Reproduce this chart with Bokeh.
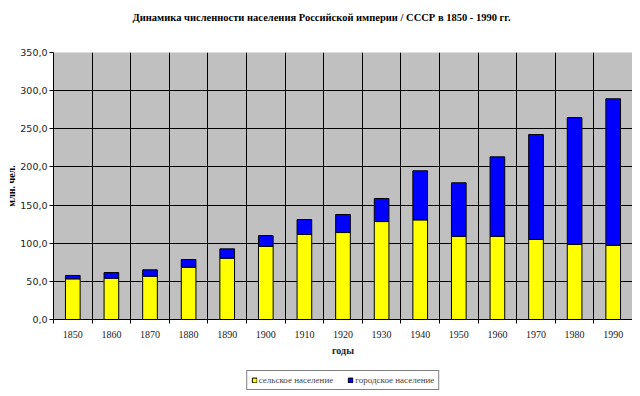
from bokeh.plotting import figure
from bokeh.layouts import column
from bokeh.models import (FixedTicker, CustomJSTickFormatter, Legend,
                          LegendItem, Range1d, ColumnDataSource, Label)
from bokeh.embed import file_html
from bokeh.resources import INLINE

years = [1850, 1860, 1870, 1880, 1890, 1900, 1910, 1920, 1930, 1940,
         1950, 1960, 1970, 1980, 1990]
rural = [53.3, 54.2, 56.8, 68.6, 80.4, 95.7, 111.4, 114.0, 128.4, 130.6,
         108.8, 108.8, 105.0, 98.3, 97.4]
urban = [4.4, 7.4, 8.3, 10.0, 12.2, 14.3, 19.6, 23.6, 30.2, 64.3,
         70.4, 104.4, 137.5, 166.4, 191.9]
y_ticks = [0, 50, 100, 150, 200, 250, 300, 350]
series_names = ["сельское население", "городское население"]
series_colors = ["#FFFF00", "#0000FF"]
title_text = "Динамика численности населения Российской империи / СССР в 1850 - 1990 гг."

W = 632
LEFT = 53


def strip(height, top):
    f = figure(width=W, height=height, output_backend="svg", toolbar_location=None,
               x_range=Range1d(0, 1), y_range=Range1d(0, 1),
               min_border_left=LEFT, min_border_right=0, min_border_top=top,
               min_border_bottom=0)
    f.axis.visible = False
    f.grid.visible = False
    f.outline_line_color = None
    f.background_fill_color = "white"
    f.border_fill_color = "white"
    return f


source = ColumnDataSource(dict(year=years, rural=rural, urban=urban))

# title strip
tf = strip(34, 0)
tf.add_layout(Label(x=(321 - LEFT) / (W - LEFT), y=0.5, text=title_text,
                    text_font="Liberation Serif", text_font_style="bold",
                    text_font_size="10.5px", text_align="center",
                    text_baseline="middle", text_color="black"))

# main chart
p = figure(width=W, height=328, output_backend="svg", toolbar_location=None,
           x_range=Range1d(1845, 1995), y_range=Range1d(0, 350),
           min_border_left=LEFT, min_border_right=0, min_border_top=18,
           min_border_bottom=43)
p.border_fill_color = "white"
p.background_fill_color = "#C0C0C0"
p.outline_line_color = None

p.vbar_stack(["rural", "urban"], x="year", width=3.8, source=source,
             fill_color=series_colors, line_color="black", line_width=1)

bounds = [y - 5 for y in years] + [years[-1] + 5]
p.xgrid.ticker = FixedTicker(ticks=bounds)
p.xgrid.grid_line_color = "black"
p.xgrid.grid_line_width = 1
p.ygrid.ticker = FixedTicker(ticks=y_ticks)
p.ygrid.grid_line_color = "black"
p.ygrid.grid_line_width = 1

p.xaxis.ticker = FixedTicker(ticks=years, minor_ticks=bounds)
p.xaxis.major_tick_out = 0
p.xaxis.major_tick_in = 0
p.xaxis.minor_tick_out = 4
p.xaxis.minor_tick_in = 0
p.xaxis.minor_tick_line_color = "black"
p.xaxis.axis_line_color = "black"
p.xaxis.major_label_text_font = "Liberation Serif"
p.xaxis.major_label_text_font_size = "10px"
p.xaxis.major_label_text_color = "#222222"
p.xaxis.major_label_standoff = 7
p.xaxis.axis_label = "годы"
p.xaxis.axis_label_text_font = "Liberation Serif"
p.xaxis.axis_label_text_font_style = "bold"
p.xaxis.axis_label_text_font_size = "10px"
p.xaxis.axis_label_text_color = "#222222"
p.xaxis.axis_label_standoff = 4

p.yaxis.ticker = FixedTicker(ticks=y_ticks)
p.yaxis.formatter = CustomJSTickFormatter(code="return tick.toFixed(1).replace('.', ',');")
p.yaxis.major_tick_out = 4
p.yaxis.major_tick_in = 0
p.yaxis.minor_tick_line_color = None
p.yaxis.axis_line_color = "black"
p.yaxis.major_tick_line_color = "black"
p.yaxis.major_label_text_font = "DejaVu Sans"
p.yaxis.major_label_text_font_size = "9.5px"
p.yaxis.major_label_text_color = "#222222"
p.yaxis.major_label_standoff = 2
p.yaxis.axis_label = "млн. чел."
p.yaxis.axis_label_text_font = "Liberation Serif"
p.yaxis.axis_label_text_font_style = "bold"
p.yaxis.axis_label_text_font_size = "10px"
p.yaxis.axis_label_text_color = "black"
p.yaxis.axis_label_standoff = 0

# legend strip (same series, drawn outside this strip's ranges; only the legend shows)
lg = strip(34, 8)
rs = lg.vbar_stack(["rural", "urban"], x="year", width=3.8, source=source,
                   fill_color=series_colors, line_color="black", line_width=1)
legend = Legend(items=[LegendItem(label=n, renderers=[rr]) for n, rr in zip(series_names, rs)],
                location="top_center", orientation="horizontal",
                glyph_width=6, glyph_height=6, label_text_font="Liberation Serif",
                label_text_font_size="9px", label_standoff=2, spacing=14,
                padding=4, margin=0, border_line_color="black", border_line_width=1,
                label_height=8, label_text_baseline="middle",
                background_fill_color="white", background_fill_alpha=1)
lg.add_layout(legend, "center")

layout = column(tf, p, lg, spacing=0)
open("out.html", "w").write(file_html(layout, INLINE))
